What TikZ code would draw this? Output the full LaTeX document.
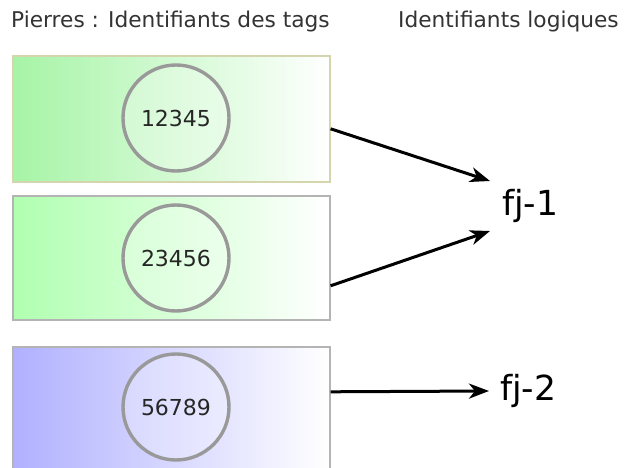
\documentclass[tikz,border=0pt]{standalone}
\usepackage{fontspec}
\setmainfont{DejaVu Sans}
\usetikzlibrary{arrows.meta}
\definecolor{txtgray}{HTML}{333333}
\definecolor{greenA}{HTML}{A6F4A6}
\definecolor{greenB}{HTML}{B0FFB0}
\definecolor{blueA}{HTML}{B0B0FF}
\definecolor{khaki}{HTML}{D6D6AE}
\definecolor{bordergray}{HTML}{B4B4B4}
\definecolor{ringgray}{HTML}{999999}
\tikzset{
  stonebox/.style={draw, line width=1.6pt, anchor=north west, minimum width=317, minimum height=126, inner sep=0pt},
  tagring/.style={circle, draw=ringgray, line width=3.4pt, fill=white, fill opacity=0.25, text opacity=1, minimum size=106, inner sep=0pt, text=black!85, font=\fontsize{22}{24}\selectfont},
  header/.style={anchor=base west, inner sep=0pt, text=txtgray, font=\fontsize{21.7}{24}\selectfont},
  logid/.style={anchor=west, inner sep=0pt, font=\fontsize{34.5}{38}\selectfont},
  link/.style={line width=3pt, -{Stealth[length=20pt, width=15pt, inset=6pt]}}
}
\begin{document}
\begin{tikzpicture}[x=1pt,y=-1pt]
\useasboundingbox (0,0) rectangle (638,468);
\clip (0,0) rectangle (638,468);
\node[header] (h1) at (11,28) {Pierres : Identifiants des tags};
\node[header] (h2) at (398,28) {Identifiants logiques};
\node[stonebox, draw=khaki, left color=greenA, right color=white] (box1) at (12,55) {};
\node[stonebox, draw=bordergray, left color=greenB, right color=white, minimum height=124] (box2) at (12,195) {};
\node[stonebox, draw=bordergray, left color=blueA, right color=white, minimum height=130] (box3) at (12,346) {};
\node[tagring] (c1) at (176,118) {12345};
\node[tagring] (c2) at (176,258) {23456};
\node[tagring] (c3) at (176,407) {56789};
\node[logid] (fj1) at (502,206) {fj-1};
\node[logid] (fj2) at (500,391) {fj-2};
\draw[link] ([yshift=-10pt]box1.east) -- ([xshift=-12pt,yshift=25pt]fj1.west);
\draw[link] ([yshift=-28pt]box2.east) -- ([xshift=-12pt,yshift=-25pt]fj1.west);
\draw[link] ([yshift=20pt]box3.east) -- ([xshift=-11pt]fj2.west);
\end{tikzpicture}
\end{document}
